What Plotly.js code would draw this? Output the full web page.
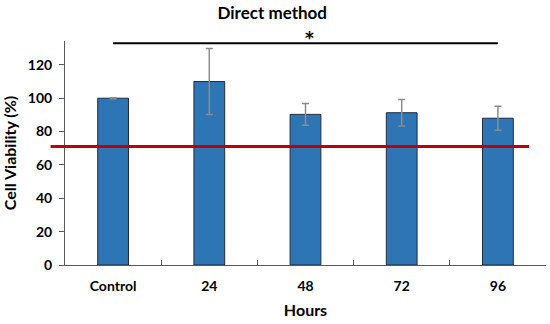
<!DOCTYPE html>
<html>
<head>
<meta charset="utf-8">
<script src="https://cdn.plot.ly/plotly-3.0.1.min.js"></script>
<style>html,body{margin:0;padding:0;background:#fff;}#chart{width:550px;height:324px;}</style>
</head>
<body>
<div id="chart"></div>
<script>
const categories = ["Control", "24", "48", "72", "96"];
const viability = [100, 110, 90.3, 91.3, 88];
const errors = [0.3, 19.8, 6.5, 7.9, 7.2];
const threshold = [71];
const significance = [{from: "Control", to: "96", level: 133, label: "*"}];

const FONT = "Lato, 'Open Sans', sans-serif";

const traces = [{
  type: "bar",
  x: categories,
  y: viability,
  width: 0.32,
  marker: {color: "#2E75B6", line: {color: "#1f2d3d", width: 1}},
  error_y: {type: "data", array: errors, visible: true, color: "#8c8c8c", thickness: 1.5, width: 3.5},
  hoverinfo: "skip"
}];

const shapes = [];
const annotations = [];
threshold.forEach(t => {
  shapes.push({type: "line", xref: "paper", yref: "y", x0: -0.03, x1: 0.965, y0: t, y1: t,
    line: {color: "#C00000", width: 3}});
});
significance.forEach(s => {
  const i0 = categories.indexOf(s.from), i1 = categories.indexOf(s.to);
  shapes.push({type: "line", xref: "x", yref: "y", x0: i0, x1: i1, y0: s.level, y1: s.level,
    line: {color: "#000", width: 2}});
  annotations.push({xref: "x", yref: "y", x: (i0 + i1) / 2 + 0.04, y: s.level, text: "<b>" + s.label + "</b>",
    showarrow: false, yanchor: "middle", yshift: 5, font: {family: "'DejaVu Sans', sans-serif", size: 17, color: "#000"}});
});

const layout = {
  width: 550, height: 324,
  margin: {l: 65, r: 4, t: 41, b: 59},
  paper_bgcolor: "#fff", plot_bgcolor: "#fff",
  showlegend: false,
  bargap: 0,
  title: {text: "<b>Direct method</b>", x: 0.495, xanchor: "center", y: 0.96, yanchor: "middle",
    font: {family: FONT, size: 17, color: "#000"}},
  xaxis: {
    type: "category",
    range: [-0.5, 4.5],
    tickson: "boundaries",
    ticks: "inside", ticklen: 5, tickcolor: "#595959", tickwidth: 1,
    showline: true, linecolor: "#595959", linewidth: 1,
    showgrid: false, zeroline: false,
    ticklabelstandoff: 8,
    tickfont: {family: FONT, size: 14, color: "#000", weight: "bold"},
    title: {text: "<b>Hours</b>", font: {family: FONT, size: 16, color: "#000"}, standoff: 12}
  },
  yaxis: {
    range: [0, 134.3],
    tickvals: [0, 20, 40, 60, 80, 100, 120],
    ticks: "outside", ticklen: 5, tickcolor: "#595959", tickwidth: 1,
    showline: true, linecolor: "#595959", linewidth: 1,
    showgrid: false, zeroline: false,
    ticklabelstandoff: 4,
    tickfont: {family: FONT, size: 14, color: "#000", weight: "bold"},
    title: {text: "<b>Cell Viability (%)</b>", font: {family: FONT, size: 16, color: "#000"}, standoff: 8}
  },
  shapes: shapes,
  annotations: annotations
};

Plotly.newPlot("chart", traces, layout, {displayModeBar: false, staticPlot: true});
</script>
</body>
</html>
